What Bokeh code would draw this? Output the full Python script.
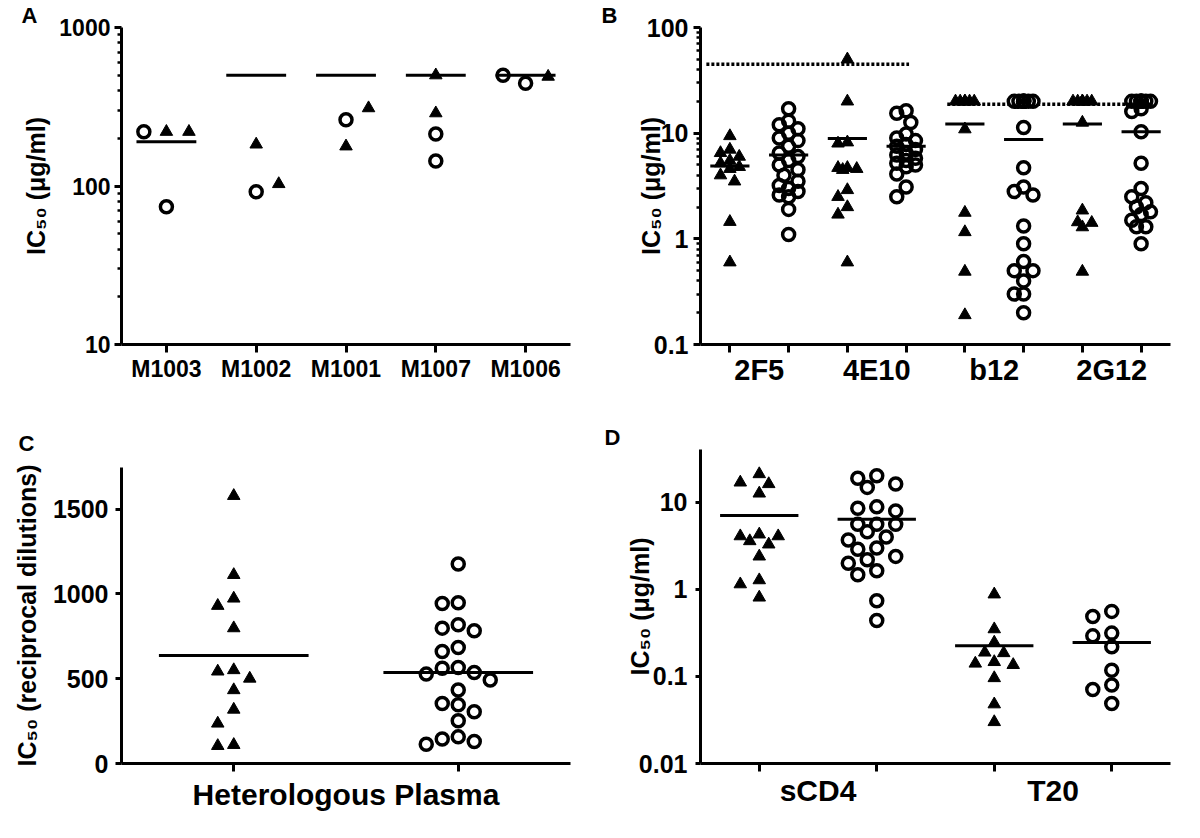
import math
from bokeh.plotting import figure
from bokeh.models import FixedTicker, NumeralTickFormatter, Range1d
from bokeh.layouts import row, column
from bokeh.embed import file_html
from bokeh.resources import INLINE

FONT = "Liberation Sans"

# ---------------- data ----------------
# Panel A: IC50 (ug/ml) per virus, two kinds of sample (triangles / circles)
A_categories = ["M1003", "M1002", "M1001", "M1007", "M1006"]
A_triangles = [[220, 220], [183, 103], [310, 178], [500, 288], [490]]
A_circles = [[220, 74], [92], [262], [213, 144], [500, 445]]
A_means = [190, 500, 500, 500, 500]

# Panel B: monoclonal antibodies (triangles, circles for each)
B_antibodies = ["2F5", "4E10", "b12", "2G12"]
B_2F5_triangles = [9.4, 7.0, 6.5, 6.0, 5.5, 5.2, 4.8, 4.6, 4.0, 3.5, 1.45, 0.6]
B_2F5_circles = [17, 13, 12, 11, 10, 9, 8.5, 7.5, 6.5, 6, 5.5, 5, 4.5, 4, 3.5,
                 3.2, 3, 2.8, 2.6, 2.5, 1.9, 1.1]
B_4E10_triangles = [50, 20, 8.2, 8.0, 4.7, 4.7, 4.6, 4.5, 2.9, 2.5, 2.0, 1.7, 0.6]
B_4E10_circles = [16.3, 15.4, 12.6, 9.8, 9, 8.5, 7.8, 7.5, 7, 6.5, 6.2, 5.8, 5.5,
                  5.2, 5, 4.8, 4.1, 3.1, 2.5]
B_b12_triangles = [20, 20, 20, 20, 20, 20, 10.9, 1.77, 1.16, 0.49, 0.19]
B_b12_circles = [20, 20, 20, 20, 20, 20, 20, 20, 11.3, 4.7, 3.1, 2.8, 2.6, 1.32,
                 0.9, 0.61, 0.5, 0.5, 0.4, 0.3, 0.3, 0.2]
B_2G12_triangles = [20, 20, 20, 20, 20, 20, 20, 12.6, 1.86, 1.44, 1.42, 1.29, 0.49]
B_2G12_circles = [20, 20, 20, 20, 20, 20, 20, 20, 17, 16, 10.3, 5.2, 3.0, 2.5, 2.2,
                  2.0, 1.8, 1.7, 1.5, 1.3, 1.3, 0.9]
B_means = [4.9, 6.2, 8.9, 7.5, 12.2, 8.7, 12.2, 10.3]
B_limits = [45, 18.8]

# Panel C: heterologous plasma, reciprocal dilutions
C_label = "Heterologous Plasma"
C_triangles = [1578, 1112, 973, 930, 798, 551, 543, 501, 433, 318, 236, 110, 104]
C_circles = [1176, 948, 943, 818, 798, 782, 684, 660, 566, 562, 537, 527, 492, 433,
             354, 346, 305, 252, 157, 144, 130, 114]
C_means = [637, 537]

# Panel D: sCD4 and T20
D_inhibitors = ["sCD4", "T20"]
D_sCD4_triangles = [21.2, 17, 16.3, 12.7, 4.3, 4.1, 4.1, 3.6, 3.3, 2.4, 1.28, 1.15, 0.81]
D_sCD4_circles = [20.3, 19, 16.3, 14.9, 8.9, 8.6, 8.0, 5.6, 5.6, 5.6, 4.6, 4.0, 3.7,
                  3.0, 2.9, 2.4, 2.2, 2.0, 1.64, 1.48, 0.74, 0.44]
D_T20_triangles = [0.88, 0.35, 0.246, 0.189, 0.186, 0.147, 0.141, 0.136, 0.096, 0.048, 0.030]
D_T20_circles = [0.56, 0.49, 0.315, 0.293, 0.219, 0.118, 0.080, 0.071, 0.049]
D_means = [7.1, 6.4, 0.225, 0.246]

YLAB_UG = "IC\u2085\u2080 (\u03bcg/ml)"
YLAB_C = "IC\u2085\u2080 (reciprocal dilutions)"

# ---------------- layout (pixels) ----------------
GEOM = {
    "A": dict(w=600, h=420, L=118, T=26, fw=458, fh=318,
              xr=(-0.5, 4.5), yr=(10, 1000), log=True),
    "B": dict(w=584, h=420, L=100, T=27, fw=477, fh=317,
              xr=(-0.5, 7.5), yr=(0.1, 100), log=True),
    "C": dict(w=600, h=402, L=121, T=47, fw=449, fh=296,
              xr=(-0.5, 1.5), yr=(0, 1745), log=False),
    "D": dict(w=584, h=402, L=99, T=29, fw=471, fh=314,
              xr=(-0.5, 3.5), yr=(0.01, 40.6), log=True),
}
# panel letter: (offset from frame left, standoff above frame, vertical align)
LETTER = {"A": (-100, 0, "bottom"), "B": (-99, 0, "bottom"),
          "C": (-103, 19, "top"), "D": (-96, 0, "bottom")}
# swarm parameters: (collision distance, step, max half width) in px, ascending order?
SWARM = {"A": (14, 23, 23, True), "B": (12, 4.75, 9.5, False),
         "C": (14, 16, 32, False), "D": (13, 9.5, 28.5, False)}
HALF = 1.0 / 3.0  # half width of the mean bar, in columns
B_LIMIT_SPANS = [(-0.4, 3.05), (3.7, 7.2)]


def val_px(g, v):
    y0, y1 = g["yr"]
    if g["log"]:
        return (math.log10(v) - math.log10(y0)) / (math.log10(y1) - math.log10(y0)) * g["fh"]
    return (v - y0) / (y1 - y0) * g["fh"]


def swarm(vals, ypx, d, step, width, ascending):
    n = int(round(width / step))
    cands = [0.0]
    for k in range(1, n + 1):
        cands += [k * step, -k * step] if ascending else [-k * step, k * step]
    placed = []
    out = [0.0] * len(vals)
    sign = 1 if ascending else -1
    for i in sorted(range(len(vals)), key=lambda i: sign * vals[i]):
        y = ypx(vals[i])
        best = None
        fb, fbd = 0.0, -1.0
        for c in cands:
            md = min([math.hypot(c - px, y - py) for px, py in placed] or [1e9])
            if md >= d:
                best = c
                break
            if md > fbd + 1e-9:
                fbd, fb = md, c
        if best is None:
            best = fb
        out[i] = best
        placed.append((best, y))
    return out


def make_figure(key):
    g = GEOM[key]
    p = figure(width=g["w"], height=g["h"], title=key,
               x_range=Range1d(*g["xr"]), y_range=Range1d(*g["yr"]),
               y_axis_type="log" if g["log"] else "linear",
               min_border_left=g["L"], min_border_top=g["T"],
               min_border_right=g["w"] - g["L"] - g["fw"],
               min_border_bottom=g["h"] - g["T"] - g["fh"],
               output_backend="svg", toolbar_location=None)
    p.outline_line_color = None
    p.xgrid.visible = False
    p.ygrid.visible = False
    off, so, va = LETTER[key]
    p.title.align = "left"
    p.title.offset = off
    p.title.standoff = so
    p.title.vertical_align = va
    p.title.text_font = FONT
    p.title.text_font_style = "bold"
    p.title.text_font_size = "22px"
    p.title.text_color = "black"
    for ax in (p.xaxis[0], p.yaxis[0]):
        ax.axis_line_width = 3
        ax.axis_line_color = "black"
        ax.major_tick_line_width = 3
        ax.major_tick_line_color = "black"
        ax.major_tick_in = 0
        ax.minor_tick_line_width = 2.5
        ax.minor_tick_line_color = "black"
        ax.minor_tick_in = 0
        ax.major_label_text_font = FONT
        ax.major_label_text_font_style = "bold"
        ax.major_label_text_color = "black"
        ax.axis_label_text_font = FONT
        ax.axis_label_text_font_style = "bold"
        ax.axis_label_text_color = "black"
        ax.axis_label_text_font_size = "25px"
    return p


def draw_points(p, key, col, tri, circ):
    g = GEOM[key]
    vals = list(tri) + list(circ)
    offs = swarm(vals, lambda v: val_px(g, v), *SWARM[key])
    ux = (g["xr"][1] - g["xr"][0]) / g["fw"]
    xs = [col + o * ux for o in offs]
    nt = len(tri)
    if nt:
        p.scatter(xs[:nt], vals[:nt], marker="triangle", size=12.5, fill_color="black",
                  line_color="black", line_width=1)
    if len(circ):
        p.scatter(xs[nt:], vals[nt:], marker="circle", size=12, fill_alpha=0,
                  line_color="black", line_width=3.5)


def draw_means(p, means):
    cols = list(range(len(means)))
    p.segment(x0=[c - HALF for c in cols], x1=[c + HALF for c in cols], y0=means, y1=means,
              line_color="black", line_width=3)


# ---------------- Panel A ----------------
pA = make_figure("A")
for i in range(len(A_categories)):
    draw_points(pA, "A", i, A_triangles[i], A_circles[i])
draw_means(pA, A_means)
pA.xaxis.ticker = FixedTicker(ticks=list(range(len(A_categories))), minor_ticks=[])
pA.xaxis.major_label_overrides = {i: c for i, c in enumerate(A_categories)}
pA.xaxis.major_tick_out = 8
pA.xaxis.minor_tick_out = 0
pA.xaxis.major_label_standoff = 3
pA.xaxis.major_label_text_font_size = "23px"
pA.yaxis.ticker = FixedTicker(ticks=[10, 100, 1000],
                              minor_ticks=[k * 10 ** e for e in (1, 2) for k in range(2, 10)])
pA.yaxis.formatter = NumeralTickFormatter(format="0.[00]")
pA.yaxis.major_tick_out = 7
pA.yaxis.minor_tick_out = 4
pA.yaxis.major_label_standoff = 4
pA.yaxis.major_label_text_font_size = "23px"
pA.yaxis.axis_label = YLAB_UG
pA.yaxis.axis_label_standoff = 6

# ---------------- Panel B ----------------
pB = make_figure("B")
B_cols = [(B_2F5_triangles, []), ([], B_2F5_circles), (B_4E10_triangles, []), ([], B_4E10_circles),
          (B_b12_triangles, []), ([], B_b12_circles), (B_2G12_triangles, []), ([], B_2G12_circles)]
for i, (t, c) in enumerate(B_cols):
    draw_points(pB, "B", i, t, c)
draw_means(pB, B_means)
for (x0, x1), v in zip(B_LIMIT_SPANS, B_limits):
    pB.line(x=[x0, x1], y=[v, v], line_color="black", line_width=3.5, line_dash="3 2")
pB.xaxis.ticker = FixedTicker(ticks=[2 * i + 0.5 for i in range(len(B_antibodies))],
                              minor_ticks=list(range(2 * len(B_antibodies))))
pB.xaxis.major_label_overrides = {2 * i + 0.5: a for i, a in enumerate(B_antibodies)}
pB.xaxis.major_tick_out = 0
pB.xaxis.minor_tick_out = 8
pB.xaxis.minor_tick_line_width = 3
pB.xaxis.major_label_standoff = 1
pB.xaxis.major_label_text_font_size = "29px"
pB.yaxis.ticker = FixedTicker(ticks=[0.1, 1, 10, 100],
                              minor_ticks=[k * 10 ** e for e in (-1, 0, 1) for k in range(2, 10)])
pB.yaxis.formatter = NumeralTickFormatter(format="0.[00]")
pB.yaxis.major_tick_out = 7
pB.yaxis.minor_tick_out = 4
pB.yaxis.major_label_standoff = 5
pB.yaxis.major_label_text_font_size = "25px"
pB.yaxis.axis_label = YLAB_UG
pB.yaxis.axis_label_standoff = -21

# ---------------- Panel C ----------------
pC = make_figure("C")
draw_points(pC, "C", 0, C_triangles, [])
draw_points(pC, "C", 1, [], C_circles)
draw_means(pC, C_means)
pC.xaxis.ticker = FixedTicker(ticks=[0, 1], minor_ticks=[])
pC.xaxis.major_label_overrides = {0: "", 1: ""}
pC.xaxis.major_label_text_font_size = "0px"
pC.xaxis.major_tick_out = 8
pC.xaxis.minor_tick_out = 0
pC.xaxis.axis_label = C_label
pC.xaxis.axis_label_text_font_size = "30px"
pC.xaxis.axis_label_standoff = 6
pC.yaxis.ticker = FixedTicker(ticks=[0, 500, 1000, 1500], minor_ticks=[])
pC.yaxis.formatter = NumeralTickFormatter(format="0")
pC.yaxis.major_tick_out = 6
pC.yaxis.minor_tick_out = 0
pC.yaxis.major_label_standoff = 7
pC.yaxis.major_label_text_font_size = "25px"
pC.yaxis.axis_label = YLAB_C
pC.yaxis.axis_label_standoff = 9

# ---------------- Panel D ----------------
pD = make_figure("D")
D_cols = [(D_sCD4_triangles, []), ([], D_sCD4_circles), (D_T20_triangles, []), ([], D_T20_circles)]
for i, (t, c) in enumerate(D_cols):
    draw_points(pD, "D", i, t, c)
draw_means(pD, D_means)
pD.xaxis.ticker = FixedTicker(ticks=[2 * i + 0.5 for i in range(len(D_inhibitors))],
                              minor_ticks=list(range(2 * len(D_inhibitors))))
pD.xaxis.major_label_overrides = {2 * i + 0.5: a for i, a in enumerate(D_inhibitors)}
pD.xaxis.major_tick_out = 0
pD.xaxis.minor_tick_out = 8
pD.xaxis.minor_tick_line_width = 3
pD.xaxis.major_label_standoff = 2
pD.xaxis.major_label_text_font_size = "30px"
pD.yaxis.ticker = FixedTicker(ticks=[0.01, 0.1, 1, 10], minor_ticks=[])
pD.yaxis.formatter = NumeralTickFormatter(format="0.[00]")
pD.yaxis.major_tick_out = 5
pD.yaxis.minor_tick_out = 0
pD.yaxis.major_label_standoff = 8
pD.yaxis.major_label_text_font_size = "25px"
pD.yaxis.axis_label = YLAB_UG
pD.yaxis.axis_label_standoff = -18

layout = row(column(pA, pC), column(pB, pD))
open("out.html", "w").write(file_html(layout, INLINE))
